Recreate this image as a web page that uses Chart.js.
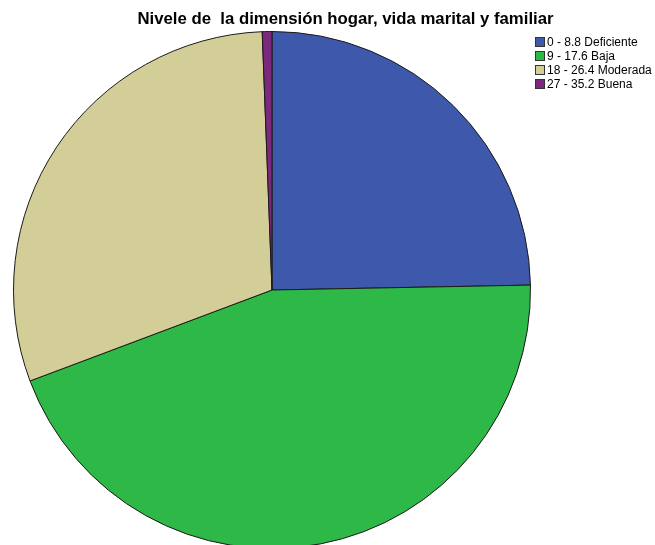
<!DOCTYPE html>
<html>
<head>
<meta charset="utf-8">
<script src="https://cdn.jsdelivr.net/npm/chart.js@4"></script>
<style>
  html, body { margin: 0; padding: 0; background: #fff; overflow: hidden; }
  #wrap { width: 655px; height: 560px; }
</style>
</head>
<body>
<div id="wrap"><canvas id="pieChart" width="655" height="560"></canvas></div>
<script>
const chartTitle = 'Nivele de  la dimensión hogar, vida marital y familiar';
const categories = ['0 - 8.8 Deficiente', '9 - 17.6 Baja', '18 - 26.4 Moderada', '27 - 35.2 Buena'];
const counts = [41, 74, 50, 1];
const colors = ['#3E58AC', '#2EB848', '#D3CE97', '#7C287D'];

// title + legend drawn at fixed spots, like the SPSS output
const overlay = {
    id: 'overlay',
    afterDraw(chart) {
        const ctx = chart.ctx;
        ctx.save();
        ctx.fillStyle = '#000';
        ctx.font = 'bold 16.75px "Liberation Sans", Arial, sans-serif';
        ctx.textAlign = 'center';
        ctx.textBaseline = 'alphabetic';
        ctx.fillText(chartTitle, 345.5, 24);

        ctx.font = '12px "Liberation Sans", Arial, sans-serif';
        ctx.textAlign = 'left';
        ctx.textBaseline = 'middle';
        chart.data.labels.forEach((lab, i) => {
            const y = 42 + i * 14;
            ctx.fillStyle = chart.data.datasets[0].backgroundColor[i];
            ctx.fillRect(535, y - 5, 10, 10);
            ctx.strokeStyle = '#333';
            ctx.lineWidth = 1;
            ctx.strokeRect(535.5, y - 4.5, 9, 9);
            ctx.fillStyle = '#000';
            ctx.fillText(lab, 547, y + 0.5);
        });
        ctx.restore();
    }
};

const pieCtx = document.getElementById('pieChart').getContext('2d');
new Chart(pieCtx, {
    type: 'pie',
    data: {
        labels: categories,
        datasets: [{
            data: counts,
            backgroundColor: colors,
            borderColor: '#1a1a1a',
            borderWidth: 1
        }]
    },
    options: {
        responsive: false,
        animation: false,
        layout: {
            padding: { left: 13, top: 31, right: 124, bottom: 11 }
        },
        plugins: {
            legend: { display: false },
            title: { display: false },
            tooltip: { enabled: false }
        }
    },
    plugins: [overlay]
});
</script>
</body>
</html>
